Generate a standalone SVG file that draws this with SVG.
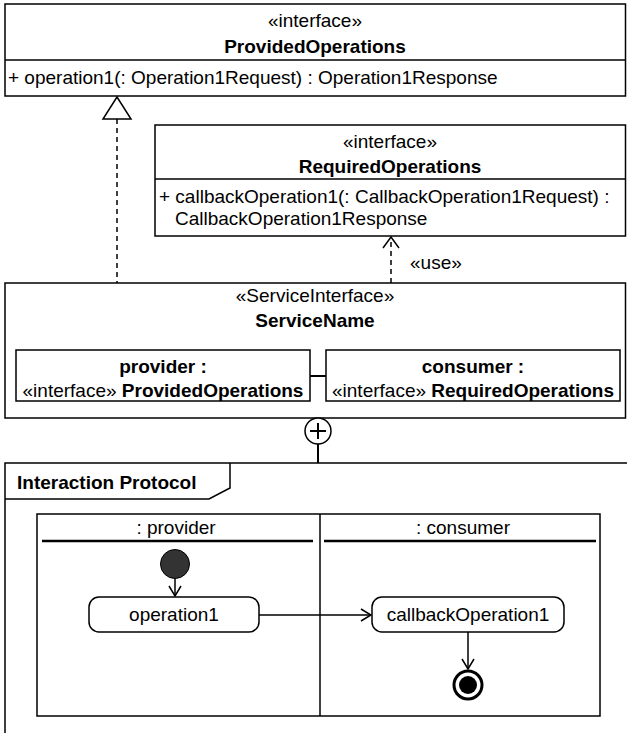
<svg xmlns="http://www.w3.org/2000/svg" width="627" height="733" viewBox="0 0 627 733">
<defs>
<style>
text{font-family:"Liberation Sans",Arial,sans-serif;font-size:19px;fill:#000}
.c{text-anchor:middle}
.b{font-weight:bold}
.box{fill:#fff;stroke:#000;stroke-width:1.5}
.ln{fill:none;stroke:#000;stroke-width:1.5}
.hd{fill:none;stroke:#000;stroke-width:2.5}
.dash{fill:none;stroke:#000;stroke-width:1.5;stroke-dasharray:5,4}
.act{fill:#fff;stroke:#000;stroke-width:1.5}
</style>
<marker id="open" markerWidth="12" markerHeight="14" refX="11" refY="7" orient="auto" markerUnits="userSpaceOnUse">
<path d="M1,1 L11,7 L1,13" fill="none" stroke="#000" stroke-width="1.5"/>
</marker>
</defs>
<rect width="627" height="733" fill="#fff"/>

<g id="ProvidedOperations">
<rect class="box" x="5" y="4" width="620.5" height="92"/>
<line class="ln" x1="5" y1="60" x2="625.5" y2="60"/>
<text class="c" x="315" y="27">«interface»</text>
<text class="c b" x="315" y="53">ProvidedOperations</text>
<text x="8" y="84">+ operation1(: Operation1Request) : Operation1Response</text>
</g>

<g id="RequiredOperations">
<rect class="box" x="155" y="125" width="470.5" height="111"/>
<line class="ln" x1="155" y1="179" x2="625.5" y2="179"/>
<text class="c" x="390" y="148">«interface»</text>
<text class="c b" x="390" y="173">RequiredOperations</text>
<text x="159" y="203">+ callbackOperation1(: CallbackOperation1Request) :</text>
<text x="175" y="225">CallbackOperation1Response</text>
</g>

<g id="ServiceName">
<rect class="box" x="5" y="283" width="620.5" height="135"/>
<text class="c" x="315" y="302">«ServiceInterface»</text>
<text class="c b" x="315" y="327">ServiceName</text>
</g>

<g id="provider">
<rect class="box" x="16" y="350" width="294" height="51"/>
<text class="c b" x="163" y="373">provider :</text>
<text class="c" x="163" y="397">«interface» <tspan class="b">ProvidedOperations</tspan></text>
</g>

<g id="consumer">
<rect class="box" x="326" y="350" width="294" height="51"/>
<text class="c b" x="473" y="373">consumer :</text>
<text class="c" x="473" y="397">«interface» <tspan class="b">RequiredOperations</tspan></text>
</g>

<g id="InteractionProtocol">
<path class="ln" d="M5,733 V463 H627"/>
<path class="ln" d="M5,499 H209 L230,488 V463"/>
<text class="b" x="17" y="489">Interaction Protocol</text>
<rect class="box" x="37" y="514" width="563" height="202"/>
<line class="ln" x1="320" y1="514" x2="320" y2="716"/>
<line class="hd" x1="42" y1="541" x2="313" y2="541"/>
<line class="hd" x1="324" y1="541" x2="596" y2="541"/>
<text class="c" x="176" y="534">: provider</text>
<text class="c" x="463" y="534">: consumer</text>
</g>

<g id="initial">
<circle cx="175" cy="564" r="14.5" fill="#333" stroke="#000" stroke-width="1"/>
</g>

<g id="operation1">
<rect class="act" x="89" y="597" width="170" height="35" rx="10"/>
<text class="c" x="174" y="621">operation1</text>
</g>

<g id="callbackOperation1">
<rect class="act" x="372" y="597" width="192" height="35" rx="10"/>
<text class="c" x="468" y="621">callbackOperation1</text>
</g>

<g id="final">
<circle cx="468" cy="685" r="14" fill="#fff" stroke="#000" stroke-width="3"/>
<circle cx="468" cy="685" r="9" fill="#000"/>
</g>

<g id="connectors">
<line class="dash" x1="117" y1="119" x2="117" y2="283"/>
<path d="M117,97 L131,119 L103,119 Z" fill="#fff" stroke="#000" stroke-width="1.5"/>
<line class="dash" x1="391" y1="283" x2="391" y2="237"/>
<path d="M383,248 L391,237 L399,248" fill="none" stroke="#000" stroke-width="1.5"/>
<text x="410" y="269">«use»</text>
<line x1="310" y1="376" x2="326" y2="376" stroke="#000" stroke-width="2"/>
<circle cx="318" cy="431" r="13" fill="#fff" stroke="#000" stroke-width="1.5"/>
<line x1="318" y1="423" x2="318" y2="439" stroke="#000" stroke-width="2"/>
<line x1="310" y1="431" x2="326" y2="431" stroke="#000" stroke-width="2"/>
<line x1="318" y1="444" x2="318" y2="463" stroke="#000" stroke-width="2"/>
<line class="ln" x1="175" y1="578.5" x2="175" y2="596" marker-end="url(#open)"/>
<line class="ln" x1="259" y1="615" x2="371" y2="615" marker-end="url(#open)"/>
<line class="ln" x1="468" y1="632" x2="468" y2="669" marker-end="url(#open)"/>
</g>
</svg>
